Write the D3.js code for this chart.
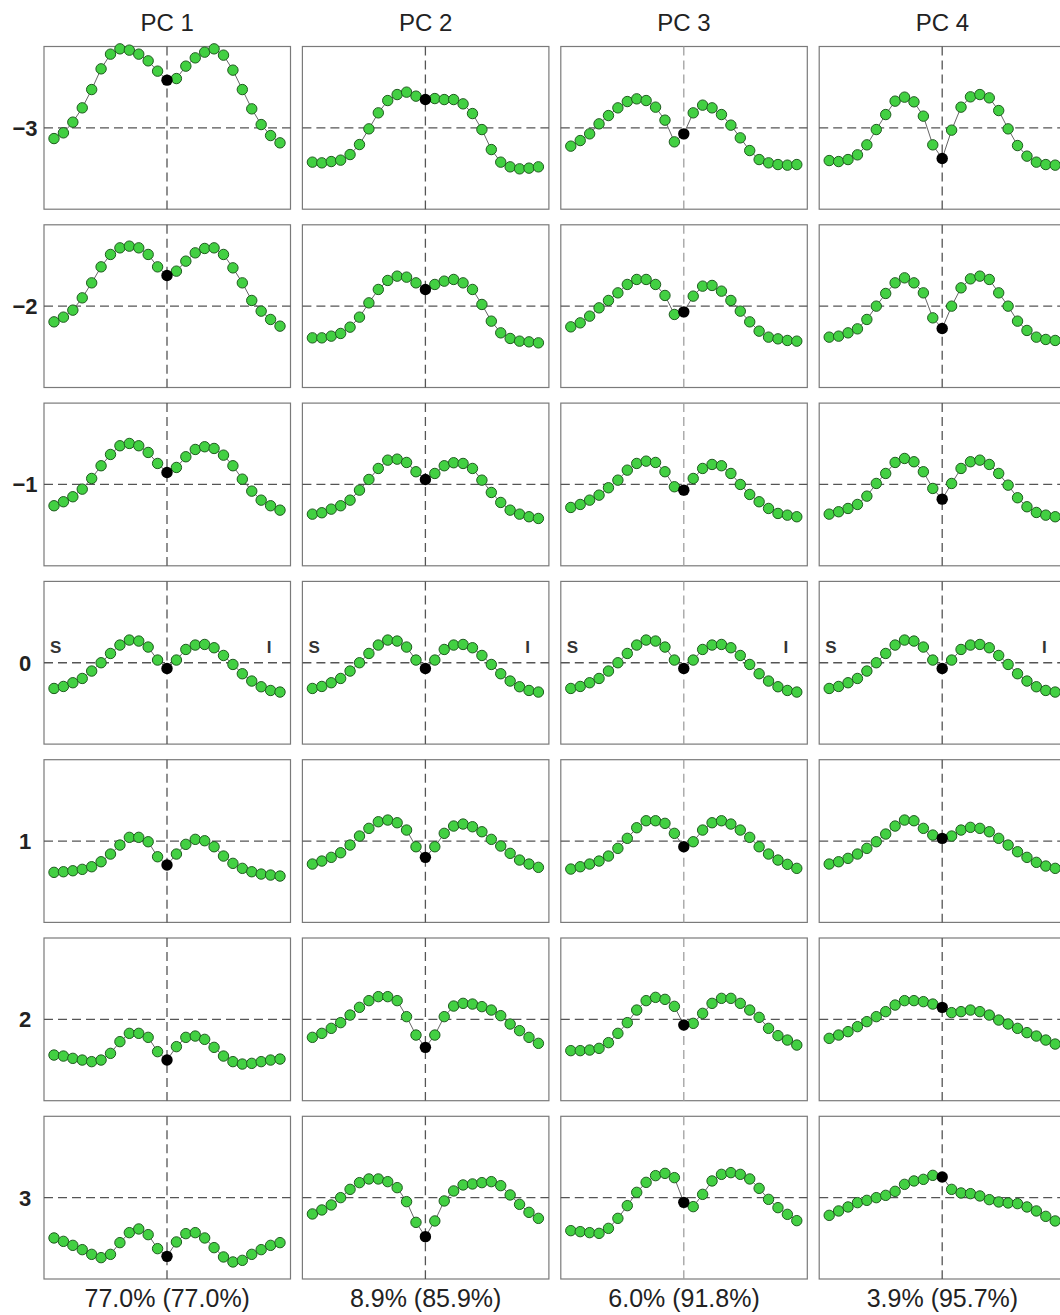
<!DOCTYPE html>
<html>
<head>
<meta charset="utf-8">
<script src="https://cdn.jsdelivr.net/npm/d3@7"></script>
<style>
  body { margin: 0; background: #fff; }
  text { font-family: "Liberation Sans", Arial, sans-serif; }
</style>
</head>
<body>
<div id="chart"></div>
<script>
var w = 1060, h = 1315;

// labels
const pcTitles = ["PC 1", "PC 2", "PC 3", "PC 4"];
const varianceLabels = ["77.0% (77.0%)", "8.9% (85.9%)", "6.0% (91.8%)", "3.9% (95.7%)"];
const rowLabels = ["\u22123", "\u22122", "\u22121", "0", "1", "2", "3"];

// landmark positions along the curve, 0 = the black centre point
const positions = [-12, -11, -10, -9, -8, -7, -6, -5, -4, -3, -2, -1, 0, 1, 2, 3, 4, 5, 6, 7, 8, 9, 10, 11, 12];

// mean shape (row 0, same in every column)
const meanShape = [-25.7, -23.7, -20, -15.7, -8.3, 0, 9.3, 17.7, 22.7, 21.7, 15.7, 2.7, -5.7, 2.7, 13.3, 17.7, 18.3, 15, 7.3, -1.7, -11, -18.3, -24, -27.7, -29.3];

// shapes per row (-3 .. 3) for each PC
const pc1Shapes = [
  [-10.7, -5, 5.7, 20, 38.3, 59, 73.7, 79, 77.7, 73.7, 67, 56.7, 47.7, 49.3, 61.7, 70, 75.7, 79, 72.7, 57.7, 38.3, 19, 3.3, -7.7, -15],
  [-15.7, -11, -4, 8.3, 23.3, 39.3, 51.7, 58.3, 60, 58.3, 51.7, 39.3, 30.7, 35, 45, 53.3, 57.7, 58.3, 51.7, 38.3, 23.3, 5.7, -5, -13.3, -20],
  [-21.3, -17.3, -12.3, -4.7, 6, 18.7, 30, 38.7, 41, 38.7, 32, 21, 12, 17, 27.7, 35, 37.7, 36, 29.3, 18.7, 5.3, -6.7, -15.7, -21.3, -25.7],
  meanShape,
  [-31.3, -30.7, -29.7, -28.3, -25.7, -20.7, -13, -4, 3.7, 3.7, -0.7, -15.7, -24, -13, -3.3, 1.7, 0.3, -5.7, -15, -22.3, -27.3, -30.7, -33, -34, -35],
  [-35.7, -36.7, -39, -40.7, -42.3, -40.7, -34, -22.3, -14, -14, -18, -32.3, -40.7, -27.3, -18, -16.7, -20, -28, -36.7, -42.3, -44.7, -44, -42.3, -40.7, -39.7],
  [-40.3, -43.7, -47.7, -52, -56.7, -60, -56.7, -45, -35, -31.3, -37, -51, -58.7, -44.3, -36, -35, -40.3, -50, -59.3, -64.3, -62.7, -56.7, -52, -47.7, -45]
];
const pc2Shapes = [
  [-34.3, -35, -33.7, -32.3, -26.7, -16.7, -1, 15, 27.3, 33.3, 35.7, 31.7, 28.3, 29.3, 28.3, 28.3, 24, 14.3, -1.7, -21.7, -34.3, -39, -41, -40.3, -39],
  [-31.7, -31.7, -30, -27.3, -21, -11, 3.3, 16.7, 25.7, 30, 29, 23.3, 16.7, 21.7, 25, 26.7, 23.3, 16.7, 1.7, -15, -26.7, -32.3, -35, -35.7, -36.7],
  [-29.7, -28.3, -24.7, -21.3, -15.7, -5.7, 5, 16, 24.3, 25.3, 22, 12.7, 5, 11, 18.7, 21.7, 21, 16, 4.3, -8, -18, -25.7, -29.7, -32.3, -34],
  meanShape,
  [-23, -20, -16.3, -11.7, -4, 5, 12.7, 19.3, 21, 18.3, 11, -5.7, -16.3, -5.7, 7.7, 15, 17, 14.3, 9.3, 1.7, -5, -12.3, -19, -23, -26.3],
  [-18, -14, -9, -3.3, 4.3, 12, 18.7, 22.7, 22.7, 18.7, 2.7, -15.7, -28, -15.7, 2.7, 13.3, 16, 15.3, 12.7, 9.3, 3.7, -4.7, -11.3, -18, -24],
  [-16.3, -12.3, -7.3, 0, 8.3, 15, 18.7, 18.7, 16, 10, -4, -24.7, -39, -23.3, -3.3, 6.7, 12.7, 13.7, 15, 16, 12, 2.7, -6.7, -14.7, -20.7]
];
const pc3Shapes = [
  [-18.3, -12.7, -6, 4, 12.3, 20, 26.3, 29, 27.3, 20.7, 7.7, -14, -6, 15, 22.7, 20, 13.3, 2.7, -10, -22.7, -31.7, -35, -36.7, -37.3, -36.7],
  [-20.7, -16.7, -10, -1.7, 5.7, 13.3, 21.7, 26.7, 26.7, 21.7, 10.7, -8.3, -5.7, 10, 20, 20.7, 15, 5.7, -5, -15.7, -25, -31, -32.7, -34.3, -35],
  [-23, -20, -15.7, -10.7, -3.3, 4.3, 14.3, 21, 23.3, 22, 12.7, -2.3, -5.7, 6, 16, 20, 18.7, 11, 0, -10, -17.3, -24, -29, -30.7, -32.3],
  meanShape,
  [-28, -25.7, -23, -20, -15, -7.3, 2.7, 13.3, 20.3, 20.3, 17.7, 7.7, -5.7, -0.7, 11, 18.3, 20.3, 17, 11, 3.7, -5.7, -13, -19, -23.3, -27.3],
  [-31.3, -31.3, -30.7, -29, -23.3, -14, -3.3, 9.3, 18.7, 22, 20, 13, -5.7, -4, 6, 16, 21, 21, 16, 9.3, 2, -9, -16.3, -20.7, -25.7],
  [-33, -34, -35, -35.7, -30.7, -20.7, -8, 5.3, 15.3, 22, 24.3, 20, -4.7, -9, 3.3, 16.7, 23.3, 25, 23.3, 18.7, 9.3, -1.7, -10, -16.7, -23]
];
const pc4Shapes = [
  [-32.7, -33.7, -31.7, -27, -17, -1.7, 13.3, 26.7, 30.7, 26, 11.7, -17, -30.7, -2.3, 20.7, 31, 33.3, 30, 17.3, -1, -17.7, -28.3, -34.3, -36.7, -37.3],
  [-31, -30, -26.7, -22.7, -13.3, 0, 12.7, 23.3, 28.3, 23.3, 13.3, -11.7, -22.3, 0, 18.3, 27.3, 30, 26.7, 13.3, 0, -15, -24.3, -31, -33.3, -34.3],
  [-29.7, -27.3, -24, -20, -11.7, 1, 11, 22, 26, 22.7, 12.7, -4, -14.7, 1, 16, 22.7, 24.3, 20, 11, -0.7, -13.3, -22.3, -28, -30.7, -32.3],
  meanShape,
  [-23, -20.7, -17.3, -13, -7.3, -0.7, 7, 15, 21, 20.3, 12.7, 6, 2.7, 5, 11, 13.7, 12.7, 9.3, 2.7, -4, -10.7, -16.3, -21.3, -25, -27.3],
  [-19, -15.7, -12.3, -7.3, -2.3, 2.7, 7.7, 14.3, 18.7, 18.7, 17.7, 15.3, 12, 6.7, 7.7, 9.3, 7.7, 4.3, -0.7, -4.7, -9, -13.3, -16.7, -20.7, -24.7],
  [-17.7, -13.3, -9.3, -5, -2.7, 0, 2.3, 6.3, 13.3, 16.7, 18.3, 22.3, 20.7, 8.3, 4.7, 4, 1.7, -2, -4.3, -5.3, -6, -9.3, -13.3, -18.7, -23.3]
];
const allShapes = [pc1Shapes, pc2Shapes, pc3Shapes, pc4Shapes];

// layout
var panelW = 246.5, panelH = 162.7;
var colX = d3.scaleLinear().domain([0, 1]).range([44, 44 + 258.4]);
var rowY = d3.scaleLinear().domain([0, 1]).range([46.5, 46.5 + 178.3]);

var x = d3.scaleLinear().domain([-12, 12]).range([10, panelW - 10.5]);
var y = d3.scaleLinear().domain([-81.35, 81.35]).range([panelH, 0]);

var svg = d3.select("#chart").append("svg")
    .attr("width", w).attr("height", h);

var line = d3.line()
    .x(function (d) { return x(d.p); })
    .y(function (d) { return y(d.v); });

allShapes.forEach(function (shapes, c) {
    // column title
    svg.append("text")
        .attr("x", colX(c) + panelW / 2).attr("y", 31)
        .attr("text-anchor", "middle")
        .attr("font-size", "24px").attr("fill", "#222")
        .text(pcTitles[c]);
    // explained variance
    svg.append("text")
        .attr("x", colX(c) + panelW / 2).attr("y", 1307)
        .attr("text-anchor", "middle")
        .attr("font-size", "25px").attr("fill", "#222")
        .text(varianceLabels[c]);

    shapes.forEach(function (vals, r) {
        var g = svg.append("g")
            .attr("transform", "translate(" + colX(c) + "," + rowY(r) + ")");
        var pts = positions.map(function (p, i) { return { p: p, v: vals[i] }; });

        g.append("rect")
            .attr("x", 0).attr("y", 0)
            .attr("width", panelW).attr("height", panelH)
            .attr("fill", "#fff").attr("stroke", "#7a7a7a").attr("stroke-width", 1.2);

        // reference lines
        g.append("line")
            .attr("x1", 0).attr("x2", panelW)
            .attr("y1", y(0)).attr("y2", y(0))
            .attr("stroke", "#555").attr("stroke-width", 1.3)
            .attr("stroke-dasharray", "9,5");
        g.append("line")
            .attr("x1", x(0)).attr("x2", x(0))
            .attr("y1", 0).attr("y2", panelH)
            .attr("stroke", c == 2 ? "#a0a0a0" : "#555").attr("stroke-width", 1.3)
            .attr("stroke-dasharray", "9,5");

        if (r == 3) {
            g.append("text").attr("x", 6).attr("y", y(10))
                .attr("font-size", "17px").attr("font-weight", "bold").attr("fill", "#333")
                .text("S");
            g.append("text").attr("x", panelW - 19).attr("y", y(10))
                .attr("text-anchor", "end")
                .attr("font-size", "17px").attr("font-weight", "bold").attr("fill", "#333")
                .text("I");
        }

        g.append("path").datum(pts)
            .attr("d", line)
            .attr("fill", "none").attr("stroke", "#666").attr("stroke-width", 1);

        g.selectAll("circle.pt")
            .data(pts.filter(function (d) { return d.p != 0; }))
            .enter().append("circle")
            .attr("class", "pt")
            .attr("cx", function (d) { return x(d.p); })
            .attr("cy", function (d) { return y(d.v); })
            .attr("r", 5.2)
            .attr("fill", "#42d042").attr("stroke", "#1f5a1f").attr("stroke-width", 1);

        g.selectAll("circle.ctr")
            .data(pts.filter(function (d) { return d.p == 0; }))
            .enter().append("circle")
            .attr("class", "ctr")
            .attr("cx", function (d) { return x(d.p); })
            .attr("cy", function (d) { return y(d.v); })
            .attr("r", 5.7)
            .attr("fill", "#000");
    });
});

// row labels
rowLabels.forEach(function (lab, r) {
    svg.append("text")
        .attr("x", 25).attr("y", rowY(r) + panelH / 2 + 8)
        .attr("text-anchor", "middle")
        .attr("font-size", "22px").attr("font-weight", "bold").attr("fill", "#222")
        .text(lab);
});
</script>
</body>
</html>
